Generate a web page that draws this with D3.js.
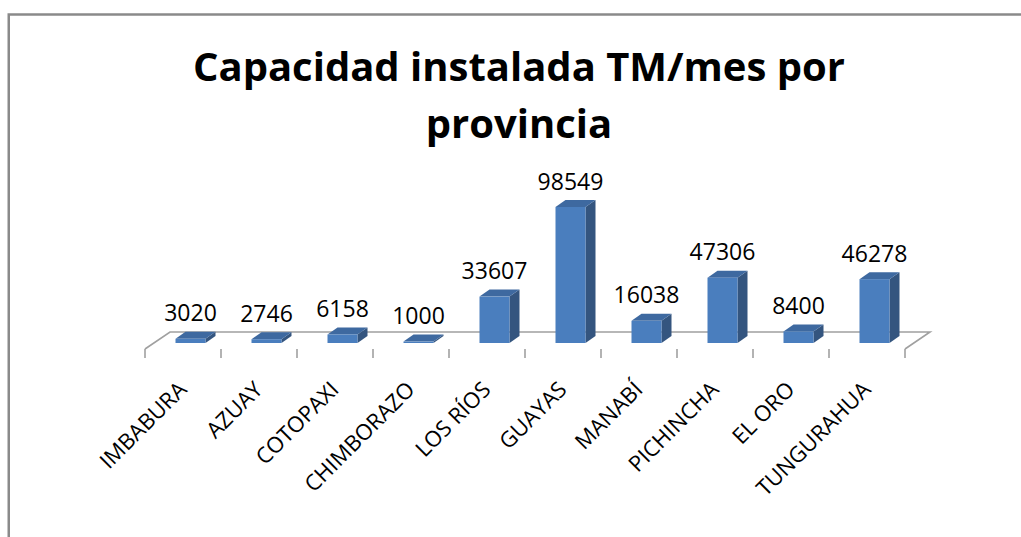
<!DOCTYPE html>
<html>
<head>
<meta charset="utf-8">
<script src="https://cdn.jsdelivr.net/npm/d3@7"></script>
<style>
  html, body { margin: 0; padding: 0; background: #ffffff; }
  svg { display: block; }
</style>
</head>
<body>
<svg id="chart" width="1021" height="537"></svg>
<script>
// Installed capacity (TM per month) by province
const titleLines = ["Capacidad instalada TM/mes por", "provincia"];
const provinces = ["IMBABURA", "AZUAY", "COTOPAXI", "CHIMBORAZO", "LOS RÍOS",
                   "GUAYAS", "MANABÍ", "PICHINCHA", "EL ORO", "TUNGURAHUA"];
const capacity = [3020, 2746, 6158, 1000, 33607, 98549, 16038, 47306, 8400, 46278];

const W = 1021, H = 537;
const svg = d3.select("#chart");
const FONT = "'Open Sans', 'DejaVu Sans', sans-serif";

// frame (only top and left edges fall inside the view)
svg.append("path")
  .attr("d", `M8.75,${H} V14.5 H${W}`)
  .attr("fill", "none")
  .attr("stroke", "#8a8a8a")
  .attr("stroke-width", 2.5);

// title
const title = svg.append("text")
  .attr("text-anchor", "middle")
  .attr("font-family", FONT)
  .attr("font-weight", "bold")
  .attr("font-size", 40)
  .attr("fill", "#000");
title.selectAll("tspan").data(titleLines).join("tspan")
  .attr("x", 519)
  .attr("y", (d, i) => 81 + i * 57)
  .text(d => d);

// scales
const x = d3.scaleBand().domain(provinces).range([145, 905]).paddingInner(0).paddingOuter(0);
const baseY = 343;
const y = d3.scaleLinear().domain([0, 100000]).range([baseY, baseY - 138]);

// 3D geometry
const floorFront = 349, floorDX = 25, floorDY = -17;
const barDX = 10, barDY = -7;
const barOffset = 30.5, barW = 30;

// floor
const fx0 = x.range()[0], fx1 = x.range()[1];
svg.append("path")
  .attr("d", `M${fx0},${floorFront} L${fx0 + floorDX},${floorFront + floorDY} L${fx1 + floorDX},${floorFront + floorDY} L${fx1},${floorFront}`)
  .attr("fill", "#ffffff")
  .attr("stroke", "#a0a0a0")
  .attr("stroke-width", 1.6)
  .attr("stroke-linejoin", "miter");

// tick marks on category boundaries
const boundaries = provinces.map(p => x(p)).concat([fx1]);
svg.append("g").selectAll("line").data(boundaries).join("line")
  .attr("x1", d => d).attr("x2", d => d)
  .attr("y1", floorFront).attr("y2", floorFront + 9)
  .attr("stroke", "#a0a0a0")
  .attr("stroke-width", 1.6);

// bars
const bars = svg.append("g").selectAll("g").data(provinces).join("g");
bars.each(function(p, i) {
  const g = d3.select(this);
  const xl = x(p) + barOffset, xr = xl + barW;
  const yt = y(capacity[i]);
  // side face
  g.append("path")
    .attr("d", `M${xr},${baseY} L${xr + barDX},${baseY + barDY} L${xr + barDX},${yt + barDY} L${xr},${yt} Z`)
    .attr("fill", "#34557f");
  // top face
  g.append("path")
    .attr("d", `M${xl},${yt} L${xl + barDX},${yt + barDY} L${xr + barDX},${yt + barDY} L${xr},${yt} Z`)
    .attr("fill", "#3e69a0");
  // front face
  g.append("rect")
    .attr("x", xl).attr("y", yt)
    .attr("width", barW).attr("height", baseY - yt)
    .attr("fill", "#4a7ebe");
  // value label
  g.append("text")
    .attr("x", xl + barW / 2)
    .attr("y", yt + barDY - 10.5)
    .attr("text-anchor", "middle")
    .attr("font-family", FONT)
    .attr("font-size", 23)
    .attr("fill", "#000")
    .text(capacity[i]);
});

// category labels, rotated
svg.append("g").selectAll("text").data(provinces).join("text")
  .attr("transform", p => `translate(${x(p) + x.bandwidth() / 2 + 5},${391}) rotate(-45)`)
  .attr("text-anchor", "end")
  .attr("font-family", FONT)
  .attr("font-size", 22)
  .attr("fill", "#000")
  .text(p => p);
</script>
</body>
</html>
